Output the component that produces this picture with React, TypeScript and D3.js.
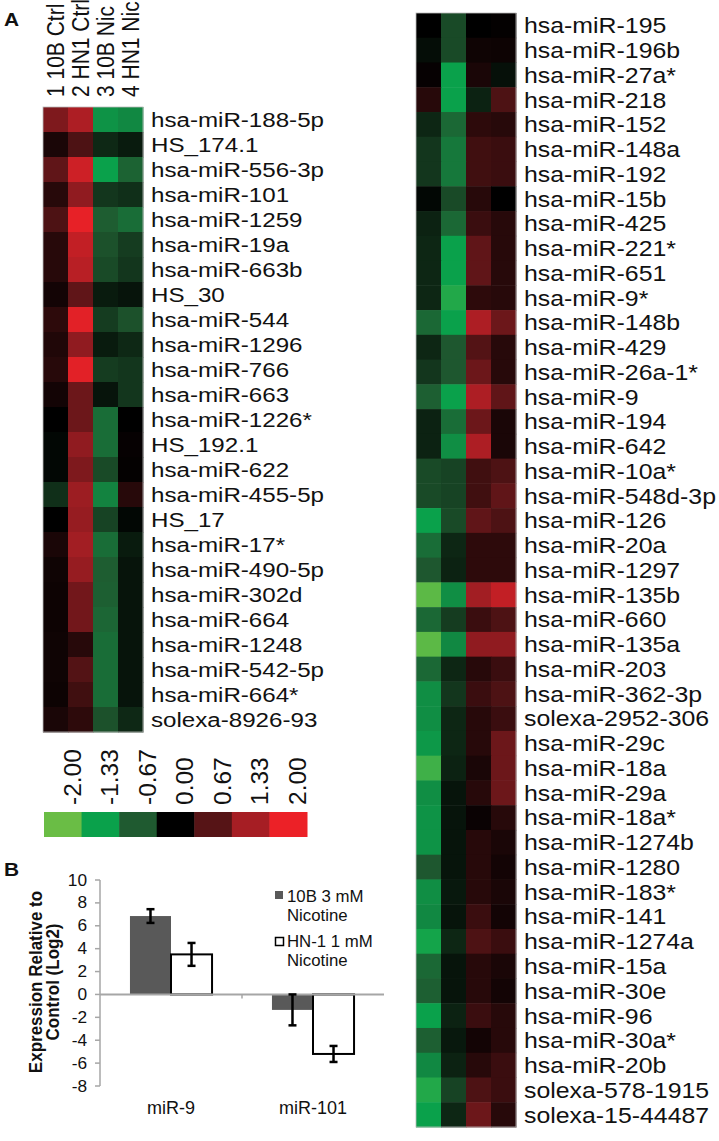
import { useEffect, useRef } from 'react';
import * as d3 from 'd3';

const samples = ['1 10B Ctrl', '2 HN1 Ctrl', '3 10B Nic', '4 HN1 Nic'];

const leftLabels = [
  'hsa-miR-188-5p', 'HS_174.1', 'hsa-miR-556-3p', 'hsa-miR-101', 'hsa-miR-1259',
  'hsa-miR-19a', 'hsa-miR-663b', 'HS_30', 'hsa-miR-544', 'hsa-miR-1296',
  'hsa-miR-766', 'hsa-miR-663', 'hsa-miR-1226*', 'HS_192.1', 'hsa-miR-622',
  'hsa-miR-455-5p', 'HS_17', 'hsa-miR-17*', 'hsa-miR-490-5p', 'hsa-miR-302d',
  'hsa-miR-664', 'hsa-miR-1248', 'hsa-miR-542-5p', 'hsa-miR-664*', 'solexa-8926-93',
];

// one row per miRNA, columns follow samples
const leftValues = [
  [1.0, 1.4, -1.2, -1.1], [0.2, 0.6, -0.3, -0.2], [0.75, 1.7, -1.33, -0.75], [0.3, 1.15, -0.4, -0.35],
  [0.6, 1.95, -0.7, -0.85], [0.3, 1.6, -0.6, -0.45], [0.3, 1.5, -0.55, -0.4], [0.15, 0.75, -0.2, -0.15],
  [0.35, 1.9, -0.45, -0.6], [0.25, 1.15, -0.2, -0.3], [0.3, 1.9, -0.45, -0.4], [0.15, 0.85, -0.15, -0.4],
  [0.0, 0.85, -0.85, 0.0], [-0.05, 1.15, -0.85, 0.05], [-0.05, 1.0, -0.55, 0.03], [-0.35, 1.25, -1.05, 0.3],
  [0.0, 1.2, -0.5, -0.05], [0.2, 1.3, -0.85, -0.2], [0.12, 1.2, -0.7, -0.15], [0.1, 0.9, -0.72, -0.15],
  [0.1, 0.9, -0.78, -0.15], [0.12, 0.3, -0.85, -0.15], [0.12, 0.65, -0.85, -0.15], [0.1, 0.5, -0.85, -0.15],
  [0.2, 0.35, -0.6, -0.3],
];

const rightLabels = [
  'hsa-miR-195', 'hsa-miR-196b', 'hsa-miR-27a*', 'hsa-miR-218', 'hsa-miR-152',
  'hsa-miR-148a', 'hsa-miR-192', 'hsa-miR-15b', 'hsa-miR-425', 'hsa-miR-221*',
  'hsa-miR-651', 'hsa-miR-9*', 'hsa-miR-148b', 'hsa-miR-429', 'hsa-miR-26a-1*',
  'hsa-miR-9', 'hsa-miR-194', 'hsa-miR-642', 'hsa-miR-10a*', 'hsa-miR-548d-3p',
  'hsa-miR-126', 'hsa-miR-20a', 'hsa-miR-1297', 'hsa-miR-135b', 'hsa-miR-660',
  'hsa-miR-135a', 'hsa-miR-203', 'hsa-miR-362-3p', 'solexa-2952-306', 'hsa-miR-29c',
  'hsa-miR-18a', 'hsa-miR-29a', 'hsa-miR-18a*', 'hsa-miR-1274b', 'hsa-miR-1280',
  'hsa-miR-183*', 'hsa-miR-141', 'hsa-miR-1274a', 'hsa-miR-15a', 'hsa-miR-30e',
  'hsa-miR-96', 'hsa-miR-30a*', 'hsa-miR-20b', 'solexa-578-1915', 'solexa-15-44487',
];

const rightValues = [
  [0.0, -0.55, 0.0, 0.03], [-0.1, -0.55, 0.12, 0.1], [0.05, -1.33, 0.2, -0.12], [0.3, -1.33, -0.25, 0.6],
  [-0.28, -0.8, 0.35, 0.3], [-0.4, -0.95, 0.5, 0.45], [-0.4, -0.95, 0.5, 0.45], [-0.05, -0.55, 0.3, 0.0],
  [-0.25, -0.8, 0.45, 0.3], [-0.28, -1.33, 0.75, 0.3], [-0.28, -1.33, 0.75, 0.3], [-0.28, -1.5, 0.35, 0.3],
  [-0.8, -1.33, 1.4, 0.85], [-0.28, -0.65, 0.65, 0.3], [-0.4, -0.65, 0.85, 0.3], [-0.72, -1.33, 1.4, 0.75],
  [-0.25, -0.85, 0.85, 0.2], [-0.25, -1.15, 1.4, 0.2], [-0.55, -0.5, 0.5, 0.6], [-0.55, -0.5, 0.5, 0.75],
  [-1.33, -0.55, 0.75, 0.6], [-0.85, -0.28, 0.35, 0.35], [-0.65, -0.25, 0.35, 0.35], [-1.9, -1.15, 1.3, 1.6],
  [-0.8, -0.45, 0.45, 0.6], [-1.9, -1.1, 1.15, 1.15], [-0.8, -0.28, 0.3, 0.45], [-1.15, -0.4, 0.45, 0.6],
  [-1.15, -0.28, 0.3, 0.45], [-1.25, -0.28, 0.3, 0.85], [-1.7, -0.25, 0.2, 0.85], [-1.15, -0.15, 0.3, 0.85],
  [-1.2, -0.15, 0.08, 0.3], [-1.2, -0.15, 0.3, 0.2], [-0.65, -0.15, 0.3, 0.15], [-1.15, -0.18, 0.3, 0.2],
  [-1.1, -0.15, 0.45, 0.15], [-1.4, -0.28, 0.6, 0.45], [-0.8, -0.15, 0.3, 0.2], [-0.72, -0.15, 0.3, 0.15],
  [-1.33, -0.25, 0.45, 0.3], [-0.72, -0.18, 0.15, 0.3], [-1.1, -0.25, 0.3, 0.45], [-1.5, -0.5, 0.6, 0.45],
  [-1.33, -0.28, 0.85, 0.3],
];

const legendStops = [-2, -1.33, -0.67, 0, 0.67, 1.33, 2];
const legendColors = ['#6abd45', '#0aa14b', '#1f5a30', '#000000', '#561416', '#a61e24', '#ec2127'];

// panel B
const barCategories = ['miR-9', 'miR-101'];
const barSeries = ['10B 3 mM Nicotine', 'HN-1 1 mM Nicotine'];
const bar10B = [6.85, -1.35];
const barHN1 = [3.5, -5.2];
const err10B = [0.6, 1.35];
const errHN1 = [1.0, 0.7];
const yTicks = [-8, -6, -4, -2, 0, 2, 4, 6, 8, 10];

const FONT = '"Liberation Sans", Arial, Helvetica, sans-serif';

const App = () => {
  const svgRef = useRef<SVGSVGElement>(null);

  useEffect(() => {
    const svg = d3.select(svgRef.current);
    svg.selectAll('*').remove();
    svg.attr('font-family', FONT);

    const color = d3.scaleLinear<string>().domain(legendStops).range(legendColors).clamp(true);

    // the source figure is a bit stretched sideways, so glyphs get a stretch factor
    const hText = (g, x, y, s, size, stretch = 1, weight = 'normal') =>
      g.append('text')
        .attr('transform', `translate(${x},${y}) scale(${stretch},1)`)
        .attr('font-size', size)
        .attr('font-weight', weight)
        .attr('fill', '#111')
        .text(s);
    const vText = (g, x, y, s, size, stretch = 1, weight = 'normal') =>
      g.append('text')
        .attr('transform', `translate(${x},${y}) rotate(-90) scale(1,${stretch})`)
        .attr('font-size', size)
        .attr('font-weight', weight)
        .attr('fill', '#111')
        .text(s);

    const heatmap = (labels, values, x0, y0, y1, labelSize, stretch) => {
      const x = d3.scaleBand().domain(samples).range([x0, x0 + 100]);
      const y = d3.scaleBand().domain(labels).range([y0, y1]);
      const g = svg.append('g');
      labels.forEach((lab, i) => {
        g.selectAll(null)
          .data(values[i])
          .enter().append('rect')
          .attr('x', (_, j) => x(samples[j]))
          .attr('y', y(lab))
          .attr('width', x.bandwidth() + 0.5)
          .attr('height', y.bandwidth() + 0.5)
          .attr('fill', d => color(d));
        hText(g, x0 + 108, y(lab) + y.bandwidth() / 2 + labelSize * 0.36, lab, labelSize, stretch);
      });
      g.append('rect')
        .attr('x', x0).attr('y', y0)
        .attr('width', 100).attr('height', y1 - y0)
        .attr('fill', 'none').attr('stroke', '#bbb').attr('stroke-width', 0.8);
      return x;
    };

    const xl = heatmap(leftLabels, leftValues, 43, 107, 732, 21, 1.15);
    heatmap(rightLabels, rightValues, 416, 13, 1127, 22, 1.13);

    // sample headers
    samples.forEach(s => vText(svg, xl(s) + xl.bandwidth() / 2 + 8, 97, s, 21, 1.12));

    hText(svg, 4, 26, 'A', 19, 1.1, 'bold');
    hText(svg, 4, 876, 'B', 19, 1.1, 'bold');

    // colour key
    const lx = d3.scaleBand().domain(legendStops.map(String)).range([44, 307]);
    svg.selectAll('.key')
      .data(legendStops)
      .enter().append('rect')
      .attr('class', 'key')
      .attr('x', d => lx(String(d)))
      .attr('y', 812)
      .attr('width', lx.bandwidth() + 0.5)
      .attr('height', 25)
      .attr('fill', d => color(d));
    legendStops.forEach(d => vText(svg, lx(String(d)) + lx.bandwidth() - 1, 805, d.toFixed(2), 24.5));

    // bar chart
    const y = d3.scaleLinear().domain([-8, 10]).range([1086, 880]);
    const x = d3.scaleBand().domain(barCategories).range([100, 384]);
    const xs = d3.scaleBand().domain(barSeries).range([0, x.bandwidth()]).paddingOuter(0.73);
    const b = svg.append('g');

    b.append('line')
      .attr('x1', 100).attr('x2', 100).attr('y1', y(-8)).attr('y2', y(10))
      .attr('stroke', '#a6a6a6').attr('stroke-width', 1.5);
    yTicks.forEach(t => {
      b.append('line')
        .attr('x1', 95).attr('x2', 100).attr('y1', y(t)).attr('y2', y(t))
        .attr('stroke', '#a6a6a6').attr('stroke-width', 1.5);
      hText(b, 87, y(t) + 5.5, String(t), 16, 1.08).attr('text-anchor', 'end');
    });

    const rows = barCategories.map((c, i) => ({ c, v: [bar10B[i], barHN1[i]], e: [err10B[i], errHN1[i]] }));
    rows.forEach(r => {
      r.v.forEach((v, k) => {
        const bx = x(r.c) + xs(barSeries[k]);
        b.append('rect')
          .attr('x', bx)
          .attr('y', y(Math.max(0, v)))
          .attr('width', xs.bandwidth())
          .attr('height', Math.abs(y(v) - y(0)))
          .attr('fill', k === 0 ? '#595959' : '#fff')
          .attr('stroke', k === 0 ? 'none' : '#000')
          .attr('stroke-width', 2);
      });
    });

    b.append('line')
      .attr('x1', 100).attr('x2', 384).attr('y1', y(0)).attr('y2', y(0))
      .attr('stroke', '#a6a6a6').attr('stroke-width', 2);
    b.append('line')
      .attr('x1', 242).attr('x2', 242).attr('y1', y(0)).attr('y2', y(0) + 4)
      .attr('stroke', '#a6a6a6').attr('stroke-width', 1.5);

    rows.forEach(r => {
      r.v.forEach((v, k) => {
        const cx = x(r.c) + xs(barSeries[k]) + xs.bandwidth() / 2;
        const e = r.e[k];
        const eb = b.append('g').attr('stroke', '#000').attr('stroke-width', 2.5);
        eb.append('line').attr('x1', cx).attr('x2', cx).attr('y1', y(v + e)).attr('y2', y(v - e));
        eb.append('line').attr('x1', cx - 4).attr('x2', cx + 4).attr('y1', y(v + e)).attr('y2', y(v + e));
        eb.append('line').attr('x1', cx - 4).attr('x2', cx + 4).attr('y1', y(v - e)).attr('y2', y(v - e));
      });
      hText(b, x(r.c) + x.bandwidth() / 2, 1114, r.c, 18).attr('text-anchor', 'middle');
    });

    vText(b, 42, 982, 'Expression Relative to', 17, 1.05, 'bold').attr('text-anchor', 'middle');
    vText(b, 59, 982, 'Control (Log2)', 17, 1.05, 'bold').attr('text-anchor', 'middle');

    // legend of panel B
    b.append('rect').attr('x', 275).attr('y', 891).attr('width', 8).attr('height', 8).attr('fill', '#595959');
    b.append('rect').attr('x', 275.5).attr('y', 937.5).attr('width', 8).attr('height', 8)
      .attr('fill', '#fff').attr('stroke', '#000').attr('stroke-width', 1.5);
    hText(b, 287, 902, '10B 3 mM', 16, 1.05);
    hText(b, 287, 921, 'Nicotine', 16, 1.05);
    hText(b, 287, 947, 'HN-1 1 mM', 16, 1.05);
    hText(b, 287, 966, 'Nicotine', 16, 1.05);
  }, []);

  return (
    <svg ref={svgRef} width={719} height={1141}
      style={{ position: 'absolute', left: 0, top: 0, background: '#fff' }} />
  );
};

export default App;
